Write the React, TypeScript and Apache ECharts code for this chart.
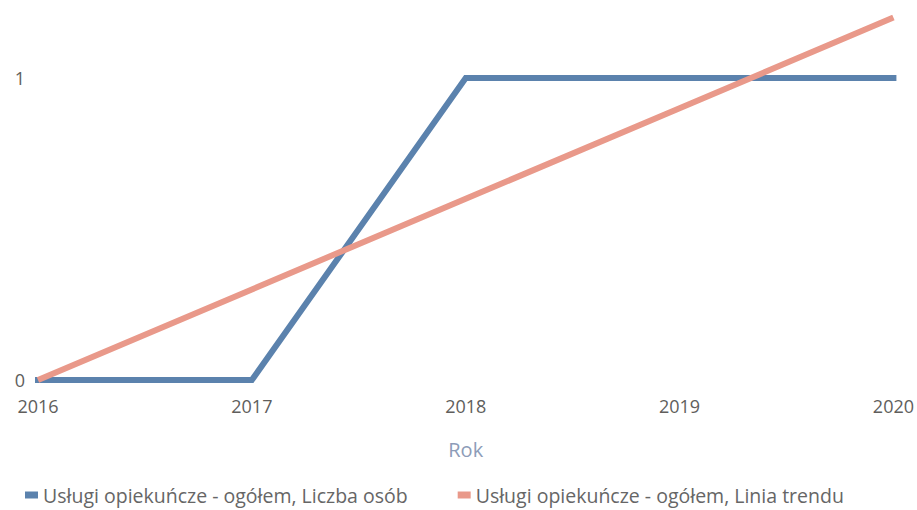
import React, { useEffect, useRef } from "react";
import * as echarts from "echarts";

const years = ["2016", "2017", "2018", "2019", "2020"];
const liczbaOsob = [0, 0, 1, 1, 1];
const liniaTrendu = [0, 0.3, 0.6, 0.9, 1.2];
const seriesNames = [
  "Usługi opiekuńcze - ogółem, Liczba osób",
  "Usługi opiekuńcze - ogółem, Linia trendu",
];

export default function App() {
  const ref = useRef<HTMLDivElement>(null);
  useEffect(() => {
    const chart = echarts.init(ref.current!, null, { renderer: "svg" });
    const font = "'Open Sans', 'Noto Sans', sans-serif";
    chart.setOption({
      animation: false,
      textStyle: { fontFamily: font },
      grid: { left: 38, right: 22, top: 17.6, bottom: 130, containLabel: false },
      legend: {
        left: 20,
        top: 480,
        itemWidth: 13,
        itemHeight: 7,
        itemGap: 50,
        icon: "rect",
        textStyle: { color: "#666", fontSize: 19.5, fontFamily: font },
        data: seriesNames,
      },
      xAxis: {
        type: "category",
        data: years,
        boundaryGap: false,
        axisLine: { show: false },
        axisTick: { show: false },
        axisLabel: { color: "#605e5c", fontSize: 18, margin: 17 },
        name: "Rok",
        nameLocation: "middle",
        nameGap: 59,
        nameTextStyle: { color: "#8d9cb8", fontSize: 20 },
      },
      yAxis: {
        type: "value",
        min: 0,
        max: 1.2,
        interval: 1,
        splitLine: { show: false },
        axisLine: { show: false },
        axisTick: { show: false },
        axisLabel: {
          color: "#605e5c",
          fontSize: 18,
          margin: 13,
          formatter: (v: number) => (Number.isInteger(v) ? String(v) : ""),
        },
      },
      series: [
        {
          name: seriesNames[0],
          type: "line",
          data: liczbaOsob,
          symbol: "none",
          color: "#5b82ad",
          lineStyle: { width: 6, color: "#5b82ad", cap: "square", join: "miter" },
        },
        {
          name: seriesNames[1],
          type: "line",
          data: liniaTrendu,
          symbol: "none",
          color: "#e9998a",
          lineStyle: { width: 6, color: "#e9998a" },
        },
      ],
    });
    return () => chart.dispose();
  }, []);
  return (
    <div
      ref={ref}
      style={{ position: "absolute", left: 0, top: 0, width: 917, height: 510 }}
    />
  );
}
